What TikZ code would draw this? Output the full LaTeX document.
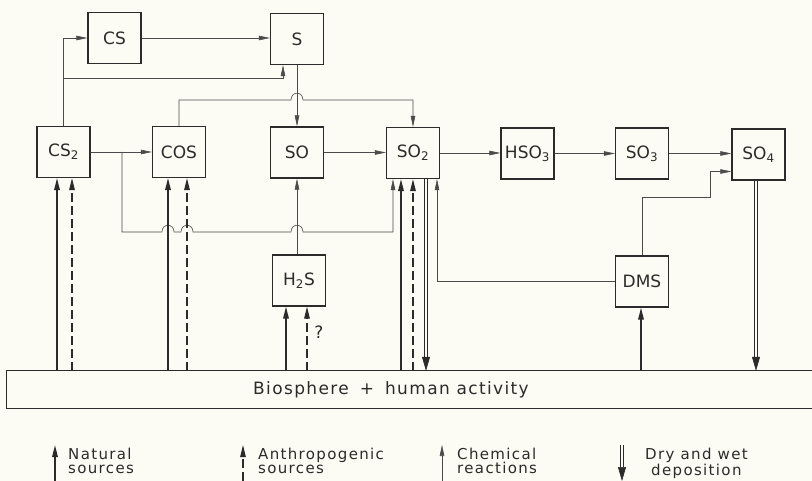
\documentclass[tikz,border=0pt]{standalone}
\usepackage{fontspec}
\setmainfont{DejaVu Sans}
\usetikzlibrary{arrows.meta,calc}
\definecolor{paper}{HTML}{FCFBF4}
\definecolor{ink}{HTML}{2B2B2B}
% small half-circle jump where a line crosses another one
\newcommand{\hop}[1]{-- ([xshift=-6pt]#1) .. controls ([xshift=-6pt,yshift=9pt]#1) and ([xshift=6pt,yshift=9pt]#1) .. ([xshift=6pt]#1)}

\begin{document}
\begin{tikzpicture}[
  x=1pt,y=-1pt,
  font=\fontsize{17}{19}\selectfont,
  box/.style={draw=ink,line width=1.2pt,fill=paper,text=ink,
              minimum width=53pt,minimum height=51pt,inner sep=0pt},
  biobox/.style={minimum width=768pt,minimum height=37pt,inner sep=0pt,text=ink,
                 font=\fontsize{17}{19}\selectfont\addfontfeatures{LetterSpace=8}},
  legend/.style={anchor=north west,align=left,inner sep=0pt,text=ink,
                 font=\fontsize{15}{14}\selectfont\addfontfeatures{LetterSpace=9}},
  react/.style={-{Triangle[length=11pt,width=4.5pt]},line width=.6pt,draw=ink!85},
  natural/.style={-{Triangle[length=12pt,width=5.5pt]},line width=1.6pt,draw=ink},
  anthro/.style={-{Triangle[length=12pt,width=5.5pt]},line width=1.1pt,draw=ink,
                 dash pattern=on 9pt off 4pt},
  depo/.style={-{Triangle[length=14pt,width=8pt]},line width=.6pt,draw=ink,
               double=paper,double distance=2.4pt}
]
\fill[paper] (0,0) rectangle (812,481);
\useasboundingbox (0,0) rectangle (812,481);

% Top row
\node[box] (cs) at (114.5,38) {CS};
\node[box] (s) at (297,39) {S};

% Middle row
\node[box] (cstwo) at (63.5,152) {CS\textsubscript{2}};
\node[box] (cos) at (179,152) {COS};
\node[box] (so) at (297,152.5) {SO};
\node[box] (sotwo) at (413,153) {SO\textsubscript{2}};
\node[box] (hso) at (527.5,153.5) {HSO\textsubscript{3}};
\node[box] (sothree) at (642,153.5) {SO\textsubscript{3}};
\node[box] (sofour) at (758.5,154.5) {SO\textsubscript{4}};

% Lower row
\node[box] (htwos) at (299,280.5) {H\textsubscript{2}S};
\node[box] (dms) at (642,281.5) {DMS};

% Biosphere
\node[biobox] (bio) at (391,389.5) {Biosphere\hspace{11pt}+\hspace{11pt}human activity};
\draw[ink,line width=1.2pt] ([xshift=37pt]bio.north east) -- (bio.north west)
  -- (bio.south west) -- ([xshift=37pt]bio.south east);

\coordinate (csbranch) at (63.5,78);
\coordinate (cosbranch) at (122,152);

% Chemical reactions
\draw[react] (cstwo.north) |- (cs.west);
\draw[react] (cs.east) -- (cs.east -| s.west);
\draw[react] (csbranch) -| ([xshift=-14pt]s.south);
\draw[react] (s.south) -- (so.north);
\draw[react] (cos.north) -- (cos.north |- 0,100) \hop{297,100} -| (sotwo.north);
\foreach \a/\b in {cstwo/cos,so/sotwo,sotwo/hso,hso/sothree,sothree/sofour}
  {\draw[react] (\a.east) -- (\a.east -| \b.west);}
\draw[react] (cosbranch) -- (122,232) \hop{168,232} \hop{187,232} \hop{297,232}
  -- (393,232) -- ([xshift=-20pt]sotwo.south);
\draw[react] (htwos.north -| so.south) -- (so.south);
\draw[react] (dms.north) |- (710,197) |- ([yshift=-17pt]sofour.west);
\draw[react] (dms.west) -| ([xshift=24pt]sotwo.south);

% Sources and deposition
\foreach \n/\d in {cstwo/-6.5,cos/-11,htwos/-13,sotwo/-12,dms/-1}
  {\draw[natural] ([xshift=\d pt]\n.south |- bio.north) -- ([xshift=\d pt]\n.south);}
\foreach \n/\d in {cstwo/8.5,cos/8,htwos/8,sotwo/0}
  {\draw[anthro] ([xshift=\d pt]\n.south |- bio.north) -- ([xshift=\d pt]\n.south);}
\foreach \n/\d in {sotwo/13,sofour/-2.5}
  {\draw[depo] ([xshift=\d pt]\n.south) -- ([xshift=\d pt]\n.south |- bio.north);}
\node[text=ink] (qmark) at (319,332) {?};

% Legend
\foreach \k/\x in {nat/55,ant/243,chem/442,depo/622}
  {\coordinate (\k bot) at (\x,481); \coordinate (\k top) at (\x,445);}
\draw[natural] (natbot) -- (nattop);
\draw[anthro] (antbot) -- (anttop);
\draw[react] (chembot) -- (chemtop);
\draw[depo] (depotop) -- (depobot);
\node[legend] (lnat) at (68,448) {Natural\\sources};
\node[legend] (lant) at (258,448) {Anthropogenic\\sources};
\node[legend] (lchem) at (457,448) {Chemical\\reactions};
\node[legend] (ldepo) at (645,448) {Dry and wet\\\hspace*{6pt}deposition};
\end{tikzpicture}
\end{document}
